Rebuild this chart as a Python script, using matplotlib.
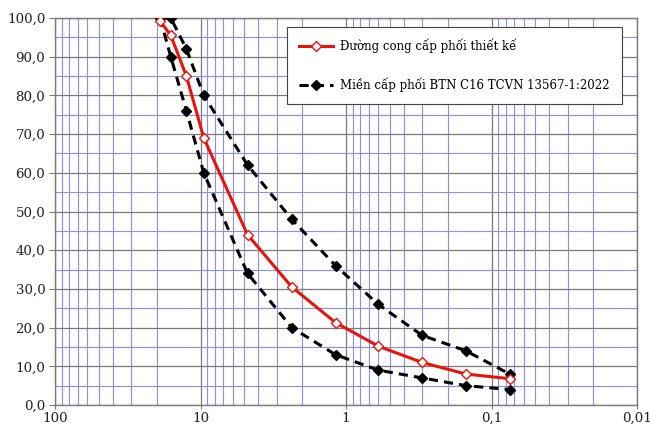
import matplotlib
matplotlib.use("Agg")
from matplotlib import pyplot as plt
from matplotlib.ticker import FixedLocator, LogLocator, FuncFormatter, NullFormatter

# kich thuoc sang (mm)
sang = [19, 16, 12.5, 9.5, 4.75, 2.36, 1.18, 0.6, 0.3, 0.15, 0.075]

# duong cong cap phoi thiet ke (% lot sang)
thiet_ke = [99.3, 95.5, 85, 69, 44, 30.5, 21.3, 15.2, 11, 8, 6.8]

# mien cap phoi BTN C16
gioi_han_tren = [100, 100, 92, 80, 62, 48, 36, 26, 18, 14, 8]
gioi_han_duoi = [100, 90, 76, 60, 34, 20, 13, 9, 7, 5, 4]

nhan_tk = "Đường cong cấp phối thiết kế"
nhan_mien = "Miền cấp phối BTN C16 TCVN 13567-1:2022"

plt.rcParams['font.family'] = ['DejaVu Serif']

fig = plt.figure(figsize=(6.51, 4.26), dpi=100)
ax = fig.add_axes([55 / 651, 21 / 426, 582 / 651, 387 / 426])

ax.set_xscale('log')
ax.set_xlim(100, 0.01)
ax.set_ylim(0, 100)

# truc va nhan
ax.xaxis.set_major_locator(FixedLocator([100, 10, 1, 0.1, 0.01]))
ax.xaxis.set_minor_locator(LogLocator(base=10, subs=range(2, 10), numticks=20))
ax.xaxis.set_minor_formatter(NullFormatter())
ax.yaxis.set_major_locator(FixedLocator(range(0, 101, 10)))
ax.yaxis.set_minor_locator(FixedLocator(range(5, 100, 10)))

ax.xaxis.set_major_formatter(FuncFormatter(lambda v, p: ('%g' % v).replace('.', ',')))
ax.yaxis.set_major_formatter(FuncFormatter(lambda v, p: ('%.1f' % v).replace('.', ',')))
ax.tick_params(which='major', labelsize=9.6, colors='#7a7a7a', labelcolor='#222222',
               length=4, width=0.8)
ax.tick_params(which='minor', length=0)
ax.tick_params(axis='x', pad=2, length=3)
ax.tick_params(axis='y', pad=3)

for s in ax.spines.values():
    s.set_color('#7a7a7a')
    s.set_linewidth(1)

# luoi
ax.xaxis.grid(True, which='minor', color='#8c8cf5', lw=0.8)
ax.yaxis.grid(True, which='minor', color='#8c8cf5', lw=0.8)
ax.xaxis.grid(True, which='major', color='#7a7a7a', lw=0.9)
ax.yaxis.grid(True, which='major', color='#7a7a7a', lw=0.9)
ax.set_axisbelow(True)

ax.plot(sang, gioi_han_tren, color='black', ls=(0, (3, 2)), lw=2.2,
        marker='D', ms=5, mfc='black', mec='black', label=nhan_mien, zorder=3)
ax.plot(sang, gioi_han_duoi, color='black', ls=(0, (3, 2)), lw=2.2,
        marker='D', ms=5, mfc='black', mec='black', zorder=3)
ax.plot(sang, thiet_ke, color='#e8140c', lw=2.2,
        marker='D', ms=4.8, mfc='white', mec='#e8140c', mew=1, label=nhan_tk, zorder=4)

h, l = ax.get_legend_handles_labels()
leg = ax.legend(h[::-1], l[::-1], loc='upper right', bbox_to_anchor=(0.9735, 0.977),
                fontsize=8.5, frameon=True, fancybox=False, edgecolor='#444444',
                framealpha=1, borderpad=1.0, labelspacing=2.05, handlelength=2.9,
                handletextpad=0.6, borderaxespad=0)
leg.get_frame().set_linewidth(0.8)

fig.savefig('out.png', dpi=100)
